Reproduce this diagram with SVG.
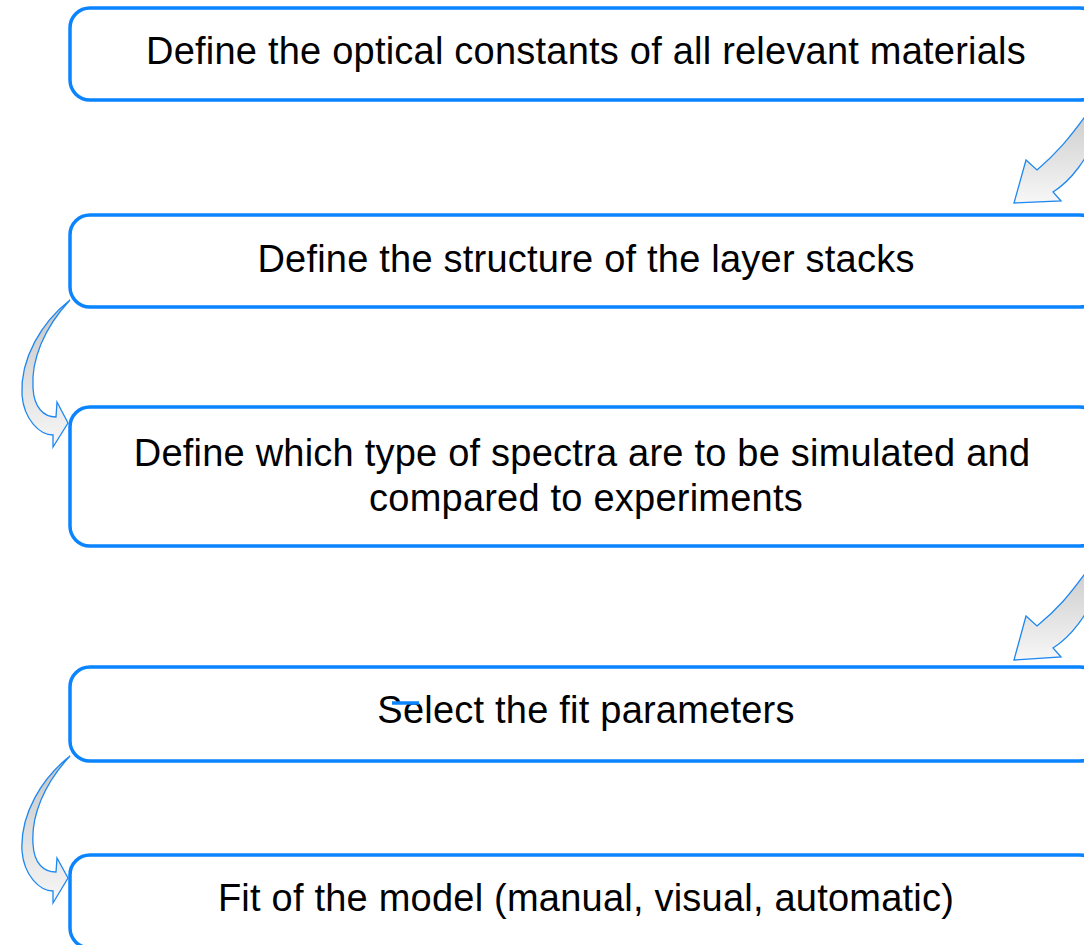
<svg xmlns="http://www.w3.org/2000/svg" width="1084" height="945" viewBox="0 0 1084 945">
<style>
.box{fill:#ffffff;stroke:#0a84ff;stroke-width:3.5}
.lbl{font-family:"Liberation Sans",Arial,sans-serif;font-size:38px;letter-spacing:0.22px;fill:#000000;text-anchor:middle}
.arr{fill:url(#g);stroke:#1e88f0;stroke-width:1.3;stroke-linejoin:miter}
</style>
<defs>
<linearGradient id="g" x1="0" y1="0" x2="0" y2="1">
<stop offset="0" stop-color="#c4c4c4"/>
<stop offset="1" stop-color="#f7f7f7"/>
</linearGradient>
</defs>
<rect width="1084" height="945" fill="#ffffff"/>
<g id="connectors">
<path class="arr" d="M1100,95 C1092,110 1086,116 1084,118 C1070,137 1058,152 1037,170 L1026,160 L1014,203 L1061,201 L1053,192 C1072,180 1086,160 1100,130 Z"/>
<path class="arr" d="M70,300 C42,322 20,358 22,395 C24,420 40,435 53,435 L53,447 L68,423 L57,402 L56,417 C44,417 34,408 33,388 C31,360 44,328 70,300 Z"/>
<path class="arr" d="M1100,552 C1092,567 1086,573 1084,575 C1070,594 1058,609 1037,626 L1026,616 L1014,660 L1061,657 L1053,648 C1072,636 1086,616 1100,587 Z"/>
<path class="arr" d="M70,756 C42,778 20,814 22,851 C24,876 40,891 53,891 L53,903 L68,878 L57,858 L56,872 C44,872 34,864 33,844 C31,816 44,784 70,756 Z"/>
</g>
<g id="node1">
<rect class="box" x="70" y="8" width="1030" height="92" rx="20"/>
<text class="lbl" x="586" y="64">Define the optical constants of all relevant materials</text>
</g>
<g id="node2">
<rect class="box" x="70" y="215" width="1030" height="92" rx="20"/>
<text class="lbl" x="586" y="272">Define the structure of the layer stacks</text>
</g>
<g id="node3">
<rect class="box" x="70" y="407" width="1030" height="139" rx="20"/>
<text class="lbl" x="582" y="466">Define which type of spectra are to be simulated and</text>
<text class="lbl" x="586" y="511">compared to experiments</text>
</g>
<g id="node4">
<rect class="box" x="70" y="667" width="1030" height="94" rx="20"/>
<text class="lbl" x="586" y="723">Select the fit parameters</text>
<line x1="392" y1="703" x2="419" y2="703" stroke="#0a84ff" stroke-width="3.5"/>
</g>
<g id="node5">
<rect class="box" x="70" y="855" width="1030" height="93" rx="20"/>
<text class="lbl" x="586" y="911">Fit of the model (manual, visual, automatic)</text>
</g>
</svg>
